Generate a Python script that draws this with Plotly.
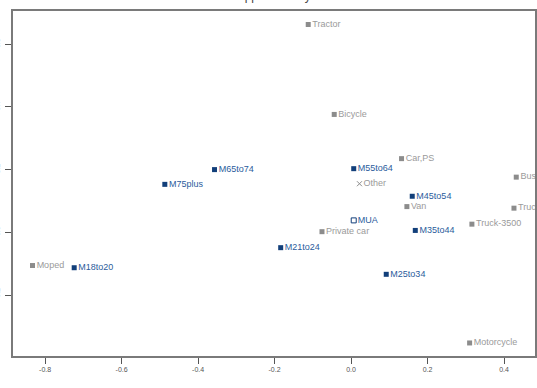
import plotly.graph_objects as go

# Supplementary vehicle categories
veh_names = ["Tractor", "Bicycle", "Moped", "Car,PS", "Van", "Bus", "Truck",
             "Private car", "Truck-3500", "Motorcycle"]
veh_x = [-0.112, -0.044, -0.833, 0.132, 0.146, 0.432, 0.426, -0.076, 0.316, 0.310]
veh_y = [0.663, 0.376, -0.106, 0.235, 0.082, 0.176, 0.077, 0.002, 0.026, -0.353]

# Age groups
age_names = ["M18to20", "M21to24", "M25to34", "M35to44", "M45to54",
             "M55to64", "M65to74", "M75plus"]
age_x = [-0.724, -0.184, 0.092, 0.168, 0.160, 0.007, -0.357, -0.487]
age_y = [-0.113, -0.049, -0.134, 0.006, 0.115, 0.203, 0.200, 0.153]

# Other single points
mua_name = ["MUA"]
mua_x = [0.007]
mua_y = [0.038]
other_name = ["Other"]
other_x = [0.022]
other_y = [0.155]

x_ticks = [-0.8, -0.6, -0.4, -0.2, 0.0, 0.2, 0.4]
x_ticklabels = ["-0.8", "-0.6", "-0.4", "-0.2", "0.0", "0.2", "0.4"]
y_ticks = [-0.2, 0.0, 0.2, 0.4, 0.6]
y_ticklabels = ["-0.2", "0.0", "0.2", "0.4", "0.6"]

FONT = "Liberation Sans, Arial, sans-serif"
GRAY_M = "#8c8c8c"
GRAY_T = "#9a9a9a"
BLUE_M = "#123f7a"
BLUE_T = "#2b5c9c"

fig = go.Figure()
fig.add_trace(go.Scatter(
    x=veh_x, y=veh_y, text=veh_names, mode="markers+text",
    textposition="middle right",
    marker=dict(symbol="square", size=5, color=GRAY_M),
    textfont=dict(family=FONT, size=9, color=GRAY_T),
    cliponaxis=True, showlegend=False))
fig.add_trace(go.Scatter(
    x=age_x, y=age_y, text=age_names, mode="markers+text",
    textposition="middle right",
    marker=dict(symbol="square", size=5, color=BLUE_M),
    textfont=dict(family=FONT, size=9, color=BLUE_T),
    cliponaxis=True, showlegend=False))
fig.add_trace(go.Scatter(
    x=mua_x, y=mua_y, text=mua_name, mode="markers+text",
    textposition="middle right",
    marker=dict(symbol="square-open", size=5, color=BLUE_M, line=dict(width=1)),
    textfont=dict(family=FONT, size=9, color=BLUE_T),
    cliponaxis=True, showlegend=False))
fig.add_trace(go.Scatter(
    x=other_x, y=other_y, text=other_name, mode="markers+text",
    textposition="middle right",
    marker=dict(symbol="x-thin", size=5, color=GRAY_M, line=dict(width=1, color=GRAY_M)),
    textfont=dict(family=FONT, size=9, color=GRAY_T),
    cliponaxis=True, showlegend=False))

fig.add_annotation(
    text="Supplementary variables", xref="paper", yref="paper",
    x=0.411, y=1, xanchor="left", yanchor="bottom", yshift=6,
    showarrow=False, font=dict(family=FONT, size=12, color="#444"))

fig.update_layout(
    width=537, height=388,
    margin=dict(l=13, r=2, t=11, b=32, autoexpand=False),
    paper_bgcolor="white", plot_bgcolor="white",
    font=dict(family=FONT),
    xaxis=dict(range=[-0.884, 0.481], tickvals=x_ticks, ticktext=x_ticklabels,
               automargin=False,
               showgrid=False, zeroline=False, showline=True, linecolor="#7a7a7a",
               linewidth=1.5, mirror=True, ticks="outside", ticklen=6,
               tickcolor="#555", tickfont=dict(size=7, color="#555")),
    yaxis=dict(range=[-0.3946, 0.706], tickvals=y_ticks, ticktext=y_ticklabels,
               automargin=False,
               showgrid=False, zeroline=False, showline=True, linecolor="#7a7a7a",
               linewidth=1.5, mirror=True, ticks="outside", ticklen=6,
               tickcolor="#555", tickangle=-90, ticklabelstandoff=2,
               tickfont=dict(size=7, color="#aaa")),
)

fig.write_html("out.html")
